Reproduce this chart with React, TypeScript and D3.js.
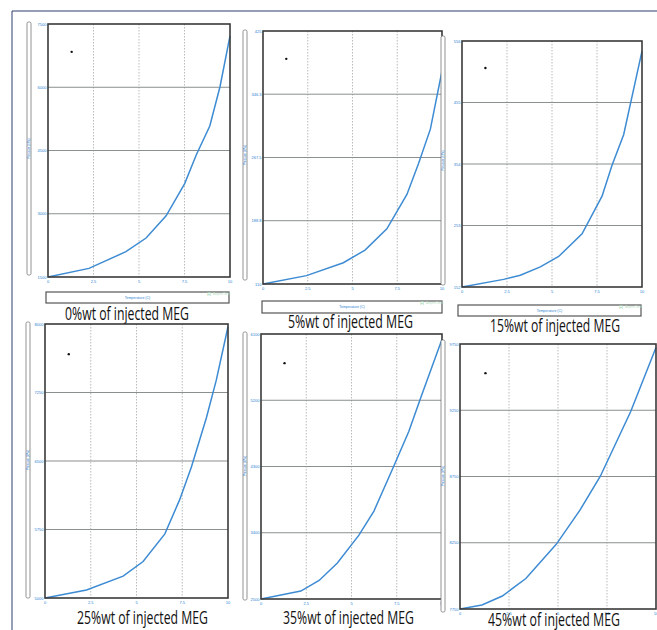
import * as d3 from "d3";

// x axis shared by all panels
const xTicks = [0, 2.5, 5, 7.5, 10];

const titles = [
  "0%wt of injected MEG",
  "5%wt of injected MEG",
  "15%wt of injected MEG",
  "25%wt of injected MEG",
  "35%wt of injected MEG",
  "45%wt of injected MEG",
];

// y tick labels per panel (read roughly, scan is blurry)
const yTicks0 = [1500, 3000, 4500, 6000, 7500];
const yTicks5 = [110.0, 188.8, 267.5, 346.3, 425.0];
const yTicks15 = [152.0, 253.0, 354.0, 455.0, 556.0];
const yTicks25 = [5000, 5750, 6500, 7250, 8000];
const yTicks35 = [2500, 3400, 4300, 5200, 6100];
const yTicks45 = [7750, 8250, 8750, 9250, 9750];

// curve points per panel
const x0 = [0, 2.25, 4.28, 5.39, 6.49, 7.51, 8.15, 8.89, 9.45, 10];
const y0 = [1500, 1704, 2100, 2424, 2952, 3714, 4398, 5082, 6012, 7218];
const x5 = [0, 2.43, 4.49, 5.7, 6.92, 8.04, 8.69, 9.35, 10];
const y5 = [110, 120.4, 136.5, 152.2, 178.7, 221.5, 259.9, 302.8, 375.2];
const x15 = [0, 2.31, 3.24, 4.35, 5.37, 6.67, 7.78, 8.33, 8.98, 10];
const y15 = [152, 164.5, 171.4, 185.1, 202.1, 239.3, 301.1, 351.6, 402.1, 539.4];
const x25 = [0, 2.27, 4.27, 5.36, 6.55, 7.36, 8.0, 8.82, 9.36, 10];
const y25 = [5000, 5087, 5240, 5399, 5702, 6077, 6434, 6974, 7385, 7970];
const x35 = [0, 2.2, 3.21, 4.22, 5.41, 6.24, 7.34, 8.17, 8.81, 10];
const y35 = [2500, 2608, 2752, 2990, 3368, 3695, 4307, 4779, 5225, 6028];
const x45 = [0, 1.12, 2.16, 3.36, 4.91, 6.12, 7.16, 8.71, 10];
const y45 = [7750, 7780, 7848, 7980, 8238, 8496, 8752, 9240, 9724];

const panels = [
  { xs: x0, ys: y0, ticks: yTicks0, box: [48, 24, 230, 277], ybar: [27, 22, 275], xbar: [46, 292, 229, 303], title: [65, 320, 124] },
  { xs: x5, ys: y5, ticks: yTicks5, box: [263, 31, 442, 284], ybar: [243, 30, 280], xbar: [262, 301, 442, 313], title: [288, 328, 125] },
  { xs: x15, ys: y15, ticks: yTicks15, box: [462, 41, 642, 287], ybar: [441, 36, 285], xbar: [458, 305, 641, 316], title: [490, 332, 130] },
  { xs: x25, ys: y25, ticks: yTicks25, box: [45, 324, 228, 598], ybar: [26, 322, 598], xbar: null, title: [77, 624, 131] },
  { xs: x35, ys: y35, ticks: yTicks35, box: [261, 334, 442, 599], ybar: [243, 332, 600], xbar: null, title: [283, 624, 131] },
  { xs: x45, ys: y45, ticks: yTicks45, box: [460, 344, 656, 609], ybar: [441, 340, 612], xbar: null, title: [488, 626, 132] },
];

function Panel({ p, i }: { p: any; i: number }) {
  const [l, t, r, b] = p.box;
  const x = d3.scaleLinear().domain([0, 10]).range([l, r]);
  const y = d3.scaleLinear().domain([p.ticks[0], p.ticks[p.ticks.length - 1]]).range([b, t]);
  const pts = p.xs.map((v: number, k: number) => [v, p.ys[k]] as [number, number]);
  const line = d3.line<[number, number]>().x((d) => x(d[0])).y((d) => y(d[1]));
  const inner = p.ticks.slice(1, -1);
  const innerX = xTicks.slice(1, -1);
  return (
    <g>
      <rect x={l} y={t} width={r - l} height={b - t} fill="#fff" />
      {innerX.map((v) => (
        <line key={"vx" + v} x1={x(v)} x2={x(v)} y1={t} y2={b} stroke="#aaa" strokeWidth={0.8} strokeDasharray="1.5,1.5" />
      ))}
      {inner.map((v: number) => (
        <line key={"hy" + v} x1={l} x2={r} y1={y(v)} y2={y(v)} stroke="#8a8f8f" strokeWidth={1} />
      ))}
      <path d={line(pts) || ""} fill="none" stroke="#3d8bd3" strokeWidth={1.5} />
      <rect x={l} y={t} width={r - l} height={b - t} fill="none" stroke="#3a3a3a" strokeWidth={1.6} />
      <circle cx={l + (r - l) * 0.13} cy={t + (b - t) * 0.11} r={1.2} fill="#111" />
      {p.ticks.map((v: number) => (
        <text key={"yl" + v} x={l - 1.5} y={y(v) + 1.5} fontSize={4} fill="#2d7fd0" textAnchor="end" fontFamily="Liberation Sans">
          {v}
        </text>
      ))}
      {xTicks.map((v) => (
        <text key={"xl" + v} x={x(v)} y={b + 6} fontSize={4} fill="#2d7fd0" textAnchor="middle" fontFamily="Liberation Sans">
          {v}
        </text>
      ))}
      <rect x={p.ybar[0]} y={p.ybar[1]} width={4} height={p.ybar[2] - p.ybar[1]} rx={1.5} fill="#fff" stroke="#777" strokeWidth={0.8} />
      <text
        x={p.ybar[0] + 3}
        y={(p.ybar[1] + p.ybar[2]) / 2}
        fontSize={3}
        fill="#2d7fd0"
        textAnchor="middle"
        transform={`rotate(-90 ${p.ybar[0] + 3} ${(p.ybar[1] + p.ybar[2]) / 2})`}
        fontFamily="Liberation Sans"
      >
        Pressure (kPa)
      </text>
      {p.xbar && (
        <g>
          <rect x={p.xbar[0]} y={p.xbar[1]} width={p.xbar[2] - p.xbar[0]} height={p.xbar[3] - p.xbar[1]} fill="#fff" stroke="#555" strokeWidth={1.2} />
          <text x={(p.xbar[0] + p.xbar[2]) / 2} y={p.xbar[1] + 7} fontSize={3.5} fill="#2d7fd0" textAnchor="middle" fontFamily="Liberation Sans">
            Temperature (C)
          </text>
          <text x={p.xbar[2] - 22} y={p.xbar[1] + 4} fontSize={6} fill="#9fd6b4" fontFamily="Liberation Sans">
            R
          </text>
          <text x={p.xbar[2] - 16} y={p.xbar[1] + 3} fontSize={3.5} fill="#b9e2c8" fontFamily="Liberation Sans">
            AspenTech
          </text>
        </g>
      )}
      <text
        x={p.title[0]}
        y={p.title[1]}
        fontSize={19}
        fill="#111"
        textLength={p.title[2]}
        lengthAdjust="spacingAndGlyphs"
        fontFamily="'Liberation Sans Narrow', 'Open Sans', sans-serif"
      >
        {titles[i]}
      </text>
    </g>
  );
}

export default function App() {
  return (
    <svg width={657} height={630} style={{ position: "absolute", left: 0, top: 0, background: "#fff" }}>
      <rect x={0} y={0} width={657} height={630} fill="#fff" />
      <line x1={12} x2={657} y1={11} y2={11} stroke="#2c3f6e" strokeWidth={1} />
      <line x1={12} x2={12} y1={11} y2={630} stroke="#2c3f6e" strokeWidth={1} />
      {panels.map((p, i) => (
        <Panel key={i} p={p} i={i} />
      ))}
    </svg>
  );
}
